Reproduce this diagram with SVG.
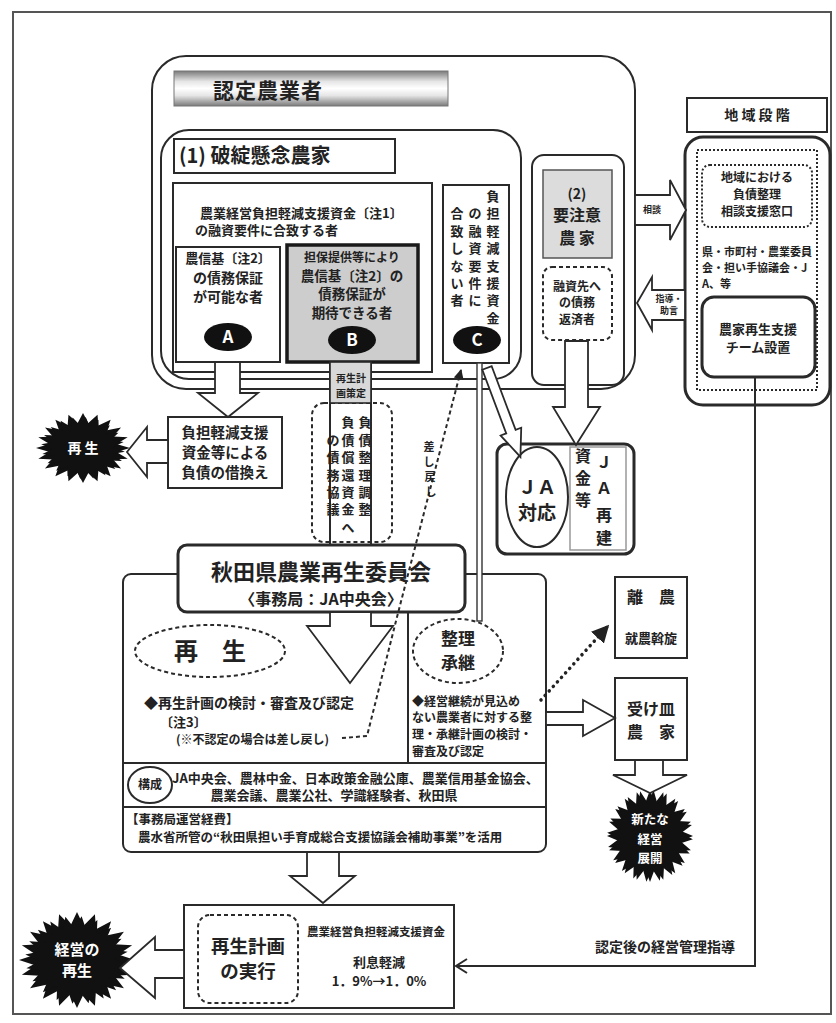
<svg xmlns="http://www.w3.org/2000/svg" xmlns:xlink="http://www.w3.org/1999/xlink" width="836" height="1023" viewBox="0 0 836 1023">
<style>
.ln{fill:none;stroke:#2a2a2a;stroke-width:2}
.bx{fill:#fff;stroke:#2a2a2a;stroke-width:2}
.th{stroke-width:3}
.ha{fill:#fff;stroke:#2a2a2a;stroke-width:1.8;stroke-linejoin:miter}
.t{font-family:"Noto Sans CJK JP","Noto Sans CJK SC",sans-serif;font-weight:700;fill:#222}
.m{text-anchor:middle}
.w{fill:#fff}
.dash{stroke-dasharray:4 3}
.dot{stroke-dasharray:2 2}
</style>
<defs>
<linearGradient id="bar" x1="0" y1="0" x2="0" y2="1">
<stop offset="0" stop-color="#7a7a7a"/><stop offset="0.3" stop-color="#e6e6e6"/><stop offset="0.5" stop-color="#fff"/><stop offset="0.7" stop-color="#e6e6e6"/><stop offset="1" stop-color="#7a7a7a"/>
</linearGradient>
<polygon id="burst" points="1,0 0.711,0.113 0.951,0.309 0.642,0.327 0.809,0.588 0.509,0.509 0.588,0.809 0.327,0.642 0.309,0.951 0.113,0.711 0,1 -0.113,0.711 -0.309,0.951 -0.327,0.642 -0.588,0.809 -0.509,0.509 -0.809,0.588 -0.642,0.327 -0.951,0.309 -0.711,0.113 -1,0 -0.711,-0.113 -0.951,-0.309 -0.642,-0.327 -0.809,-0.588 -0.509,-0.509 -0.588,-0.809 -0.327,-0.642 -0.309,-0.951 -0.113,-0.711 0,-1 0.113,-0.711 0.309,-0.951 0.327,-0.642 0.588,-0.809 0.509,-0.509 0.809,-0.588 0.642,-0.327 0.951,-0.309 0.711,-0.113"/>
<marker id="ah2" viewBox="0 0 10 10" refX="9" refY="5" markerWidth="5" markerHeight="5" orient="auto"><path d="M0,0 L10,5 L0,10 z" fill="#222"/></marker>
</defs>
<rect x="0" y="0" width="836" height="1023" fill="#fff"/>
<rect x="13" y="12" width="818" height="1002" fill="none" stroke="#555" stroke-width="2"/>

<g id="nintei">
<rect class="bx" x="152" y="56" width="483" height="333" rx="34"/>
<rect x="174" y="71" width="274" height="35" fill="url(#bar)" stroke="#777" stroke-width="1"/>
<text class="t" x="213" y="98" font-size="21" letter-spacing="1">認定農業者</text>
</g>

<g id="hatan">
<rect class="ln" x="161" y="130" width="360" height="249" rx="28" stroke-width="1.6"/>
<rect class="bx" x="174" y="139" width="221" height="34" stroke-width="1.6"/>
<text class="t" x="179" y="163" font-size="20">(1) 破綻懸念農家</text>
</g>

<g id="yoken">
<rect class="bx" x="173" y="183" width="259" height="189" stroke-width="2.5"/>
<text class="t" font-size="13"><tspan x="200" y="218">農業経営負担軽減支援資金〔注1〕</tspan><tspan x="195" y="235">の融資要件に合致する者</tspan></text>
</g>

<g id="nodeA">
<rect class="bx" x="176" y="247" width="104" height="115"/>
<text class="t m" font-size="14"><tspan x="228" y="263" font-size="13">農信基〔注2〕</tspan><tspan x="228" y="283">の債務保証</tspan><tspan x="228" y="302">が可能な者</tspan></text>
<ellipse cx="228" cy="337" rx="24" ry="14" fill="#111"/>
<text class="t m w" x="228" y="343" font-size="17" font-weight="400">A</text>
</g>

<g id="nodeB">
<rect x="287" y="245" width="131" height="117" fill="#cdcdcd" stroke="#1a1a1a" stroke-width="3.5"/>
<text class="t m" font-size="13.5"><tspan x="352" y="262" font-size="12">担保提供等により</tspan><tspan x="352" y="281">農信基〔注2〕の</tspan><tspan x="352" y="299">債務保証が</tspan><tspan x="352" y="318">期待できる者</tspan></text>
<ellipse cx="352" cy="340" rx="24" ry="14" fill="#111"/>
<text class="t m w" x="352" y="346" font-size="17" font-weight="400">B</text>
</g>

<g id="nodeC">
<rect class="bx" x="443" y="185" width="66" height="178" stroke-width="3"/>
<text class="t m" font-size="13"><tspan x="493" y="201">負</tspan><tspan x="493" y="218">担</tspan><tspan x="493" y="236">軽</tspan><tspan x="493" y="253">減</tspan><tspan x="493" y="271">支</tspan><tspan x="493" y="288">援</tspan><tspan x="493" y="305">資</tspan><tspan x="493" y="323">金</tspan><tspan x="475" y="218">の</tspan><tspan x="475" y="236">融</tspan><tspan x="475" y="253">資</tspan><tspan x="475" y="271">要</tspan><tspan x="475" y="288">件</tspan><tspan x="475" y="305">に</tspan><tspan x="457" y="218">合</tspan><tspan x="457" y="236">致</tspan><tspan x="457" y="253">し</tspan><tspan x="457" y="271">な</tspan><tspan x="457" y="288">い</tspan><tspan x="457" y="305">者</tspan></text>
<ellipse cx="477" cy="340" rx="24" ry="14" fill="#111"/>
<text class="t m w" x="477" y="346" font-size="17" font-weight="400">C</text>
</g>

<g id="yochui">
<rect class="ln" x="532" y="155" width="92" height="230" rx="12" stroke-width="1.6"/>
<rect x="543" y="170" width="69" height="88" fill="#dcdcdc" stroke="#555" stroke-width="1.5"/>
<text class="t m" font-size="16"><tspan x="577" y="199" font-size="14">(2)</tspan><tspan x="577" y="221">要注意</tspan><tspan x="577" y="244">農 家</tspan></text>
<rect class="ln dash" x="543" y="267" width="69" height="73" rx="9" stroke-width="1.3" stroke="#666"/>
<text class="t m" font-size="12"><tspan x="577" y="291">融資先へ</tspan><tspan x="577" y="307">の債務</tspan><tspan x="577" y="324">返済者</tspan></text>
</g>

<g id="chiiki">
<rect class="bx" x="687" y="98" width="140" height="34"/>
<text class="t m" x="757" y="120" font-size="14">地 域 段 階</text>
<rect class="bx th" x="685" y="137" width="145" height="268" rx="18"/>
<rect class="ln dot" x="697" y="150" width="120" height="240" stroke-width="1.3"/>
<rect class="ln dot" x="702" y="165" width="110" height="62" rx="8" stroke-width="1.8"/>
<text class="t m" font-size="12"><tspan x="757" y="182">地域における</tspan><tspan x="757" y="199">負債整理</tspan><tspan x="757" y="216">相談支援窓口</tspan></text>
<text class="t" font-size="11"><tspan x="702" y="256">県・市町村・農業委員</tspan><tspan x="702" y="272">会・担い手協議会・J</tspan><tspan x="702" y="288">A、等</tspan></text>
</g>
<g id="team">
<rect class="bx th" x="702" y="297" width="113" height="80" rx="12"/>
<text class="t m" font-size="13"><tspan x="758" y="334">農家再生支援</tspan><tspan x="758" y="352">チーム設置</tspan></text>
</g>

<g id="karikae">
<rect class="bx" x="168" y="417" width="114" height="71"/>
<text class="t m" font-size="14.5"><tspan x="225" y="438">負担軽減支援</tspan><tspan x="225" y="458">資金等による</tspan><tspan x="225" y="478">負債の借換え</tspan></text>
</g>
<g id="saisei1">
<use xlink:href="#burst" href="#burst" transform="translate(83,448) scale(47,35)" fill="#111"/>
<use xlink:href="#burst" href="#burst" transform="translate(83,448) rotate(5) scale(42,31)" fill="#111"/>
<text class="t m w" x="83" y="453" font-size="14">再 生</text>
</g>

<g id="ja">
<rect class="bx th" x="497" y="444" width="137" height="110" rx="10"/>
<rect x="570" y="447" width="56" height="103" fill="none" stroke="#999" stroke-width="1.5"/>
<ellipse class="ln" cx="537" cy="497" rx="31" ry="50" stroke-width="1.3"/>
<text class="t m" font-size="19"><tspan x="537" y="494">ＪＡ</tspan><tspan x="537" y="520">対応</tspan></text>
<text class="t m" font-size="16"><tspan x="583" y="462">資</tspan><tspan x="583" y="484">金</tspan><tspan x="583" y="506">等</tspan><tspan x="604" y="468">Ｊ</tspan><tspan x="604" y="494">Ａ</tspan><tspan x="604" y="521">再</tspan><tspan x="604" y="544">建</tspan></text>
</g>

<g id="fusai">
<rect class="ln dash" x="312" y="403" width="80" height="139" rx="12" stroke-width="1.2" stroke="#666"/>
<line class="ln" x1="330" y1="362" x2="330" y2="548" stroke-width="1.6"/>
<line class="ln" x1="371" y1="362" x2="371" y2="548" stroke-width="1.6"/>
<rect x="330" y="362" width="41" height="41" fill="#d8d8d8" stroke="#2a2a2a" stroke-width="1.6"/>
<text class="t m" font-size="10"><tspan x="351" y="382">再生計</tspan><tspan x="351" y="397">画策定</tspan></text>
<text class="t m" font-size="13"><tspan x="365" y="427">負</tspan><tspan x="365" y="445">債</tspan><tspan x="365" y="462">整</tspan><tspan x="365" y="480">理</tspan><tspan x="365" y="497">調</tspan><tspan x="365" y="514">整</tspan><tspan x="348" y="427">負</tspan><tspan x="348" y="445">債</tspan><tspan x="348" y="462">償</tspan><tspan x="348" y="480">還</tspan><tspan x="348" y="497">資</tspan><tspan x="348" y="514">金</tspan><tspan x="348" y="532">へ</tspan><tspan x="333" y="445">の</tspan><tspan x="333" y="462">債</tspan><tspan x="333" y="480">務</tspan><tspan x="333" y="497">協</tspan><tspan x="333" y="514">議</tspan></text>
</g>

<g id="kaigi">
<rect class="ln" x="123" y="574" width="423" height="278" rx="8" stroke-width="2.5"/>
<line class="ln" x1="408" y1="575" x2="408" y2="763" stroke-width="1.6"/>
<line class="ln" x1="123" y1="763" x2="546" y2="763" stroke-width="2.5"/>
<line class="ln" x1="123" y1="807" x2="546" y2="807" stroke-width="2.5"/>
<rect class="bx th" x="178" y="545" width="287" height="67" rx="9"/>
<text class="t m" font-size="22"><tspan x="321" y="580">秋田県農業再生委員会</tspan><tspan x="321" y="605" font-size="16">〈事務局：JA中央会〉</tspan></text>
<ellipse class="ln dash" cx="210" cy="651" rx="75" ry="26" stroke-width="1.3"/>
<text class="t m" x="210" y="660" font-size="24">再　生</text>
<text class="t" font-size="14"><tspan x="144" y="708">◆再生計画の検討・審査及び認定</tspan><tspan x="160" y="727" font-size="13">〔注3〕</tspan><tspan x="176" y="744" font-size="12">(※不認定の場合は差し戻し)</tspan></text>
<ellipse class="ln dash" cx="458" cy="651" rx="45" ry="32" stroke-width="1.3"/>
<text class="t m" font-size="17"><tspan x="458" y="645">整理</tspan><tspan x="458" y="669">承継</tspan></text>
<text class="t" font-size="12"><tspan x="412" y="706">◆経営継続が見込め</tspan><tspan x="412" y="722">ない農業者に対する整</tspan><tspan x="412" y="739">理・承継計画の検討・</tspan><tspan x="412" y="756">審査及び認定</tspan></text>
<ellipse class="ln" cx="150" cy="785" rx="22" ry="18" stroke-width="1.3"/>
<text class="t m" x="150" y="789" font-size="12">構成</text>
<text class="t" font-size="13"><tspan x="172" y="783">JA中央会、農林中金、日本政策金融公庫、農業信用基金協会、</tspan><tspan x="334" y="800" text-anchor="middle">農業会議、農業公社、学識経験者、秋田県</tspan></text>
<text class="t" font-size="12.5"><tspan x="126" y="824">【事務局運営経費】</tspan><tspan x="138" y="842">農水省所管の“秋田県担い手育成総合支援協議会補助事業”を活用</tspan></text>
</g>

<g id="rino">
<rect class="bx" x="615" y="577" width="72" height="81"/>
<text class="t m" x="651" y="603" font-size="16">離　農</text>
<text class="t m" x="651" y="643" font-size="13">就農斡旋</text>
</g>
<g id="ukezara">
<rect class="bx" x="615" y="678" width="72" height="82"/>
<text class="t m" font-size="16"><tspan x="651" y="715">受け皿</tspan><tspan x="651" y="738">農　家</tspan></text>
</g>
<g id="aratana">
<use xlink:href="#burst" href="#burst" transform="translate(650,836) scale(43,46)" fill="#111"/>
<use xlink:href="#burst" href="#burst" transform="translate(650,836) rotate(4.5) scale(43,46)" fill="#111"/>
<text class="t m w" font-size="12.5"><tspan x="650" y="824">新たな</tspan><tspan x="650" y="844">経営</tspan><tspan x="650" y="863">展開</tspan></text>
</g>

<g id="jikko">
<rect class="bx" x="184" y="905" width="270" height="103" stroke-width="2.5"/>
<rect class="ln dash" x="198" y="915" width="100" height="88" rx="12" stroke-width="1.4"/>
<text class="t m" font-size="18.5"><tspan x="248" y="953">再生計画</tspan><tspan x="248" y="978">の実行</tspan></text>
<text class="t m" font-size="13"><tspan x="376" y="936" font-size="11.5">農業経営負担軽減支援資金</tspan><tspan x="379" y="967">利息軽減</tspan><tspan x="379" y="986">1．9%→1．0%</tspan></text>
</g>
<g id="saisei2">
<use xlink:href="#burst" href="#burst" transform="translate(77,960) scale(58,48)" fill="#111"/>
<use xlink:href="#burst" href="#burst" transform="translate(77,960) rotate(6) scale(52,44)" fill="#111"/>
<text class="t m w" font-size="15"><tspan x="77" y="955">経営の</tspan><tspan x="77" y="976">再生</tspan></text>
</g>

<g id="connectors">
<polygon class="ha" points="215,362 240,362 240,393 258,393 228,417 198,393 215,393"/>
<polygon class="ha" points="168,440 147,440 147,427 127,452 147,477 147,463 168,463"/>
<rect x="477" y="363" width="5" height="258" fill="#fff" stroke="#333" stroke-width="1.4"/>
<polygon class="ha" transform="translate(487,368) rotate(69.4)" points="0,-5 68,-5 68,-11 95,0 68,11 68,5 0,5"/>
<polygon class="ha" points="565,341 588,341 588,407 600,407 576,445 553,407 565,407"/>
<polygon class="ha" points="635,195 670,195 670,180 686,210 670,240 670,225 635,225"/>
<text class="t m" x="652" y="213" font-size="9">相談</text>
<polygon class="ha" points="685,290 652,290 652,277 637,303 652,330 652,320 685,320"/>
<text class="t m" font-size="9"><tspan x="669" y="302">指導・</tspan><tspan x="669" y="314">助言</tspan></text>
<polygon class="ha" points="330,612 371,612 371,626 393,626 350,683 307,626 330,626"/>
<polyline class="ln dash" points="342,738 367,736 397,617 461,370" stroke-width="1.3" marker-end="url(#ah2)"/>
<text class="t m" font-size="11"><tspan x="429" y="451">差</tspan><tspan x="429" y="466">し</tspan><tspan x="430" y="481">戻</tspan><tspan x="431" y="496">し</tspan></text>
<polygon class="ha" points="546,712 583,712 583,700 615,718 583,736 583,725 546,725"/>
<line x1="541" y1="700" x2="608" y2="626" stroke="#222" stroke-width="3.5" stroke-dasharray="0.1 6" stroke-linecap="round" marker-end="url(#ah2)"/>
<polygon class="ha" points="635,760 663,760 663,775 687,775 650,793 613,775 635,775"/>
<polygon class="ha" points="307,852 339,852 339,876 355,876 323,903 290,876 307,876"/>
<polygon class="ha" points="184,950 155,950 155,937 120,968 155,998 155,978 184,978"/>
<polyline class="ln" points="755,377 755,966 456,966" stroke-width="1.6"/>
<path class="ln" d="M467,959 L456,966 L467,973" stroke-width="1.6"/>
<text class="t" x="595" y="952" font-size="14">認定後の経営管理指導</text>
</g>
</svg>
